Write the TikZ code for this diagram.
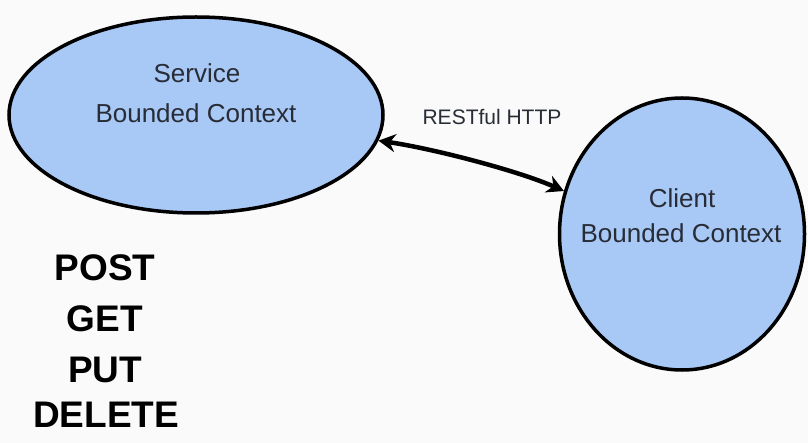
\documentclass[tikz,border=0pt]{standalone}
\usepackage{fontspec}
\setmainfont{Liberation Sans}
\usetikzlibrary{shapes.geometric,arrows.meta}
\definecolor{ctxblue}{RGB}{168,200,245}
\definecolor{ctxtext}{RGB}{40,44,54}
\definecolor{paper}{RGB}{250,250,250}
\tikzset{
    context/.style={ellipse,draw=black,fill=ctxblue,line width=3.5pt,inner sep=0pt},
    ctxlabel/.style={anchor=base,text=ctxtext,font=\fontsize{26}{30}\selectfont},
    verb/.style={anchor=base,font=\bfseries\fontsize{37}{42}\selectfont}
}
\begin{document}
\begin{tikzpicture}[x=1pt,y=-1pt]
    \fill[paper] (0,0) rectangle (808,443);
    \useasboundingbox (0,0) rectangle (808,443);
    \node[context,minimum width=374pt,minimum height=196pt] (svc) at (196,115) {};
    \node[context,minimum width=245pt,minimum height=272pt] (cli) at (682,234) {};
    \node[ctxlabel] (svcname) at (197,83) {Service};
    \node[ctxlabel] (svcbc) at (196,123) {Bounded Context};
    \node[ctxlabel] (cliname) at (682,208) {Client};
    \node[ctxlabel] (clibc) at (681,243) {Bounded Context};
    \node[anchor=base,text=ctxtext,font=\fontsize{21}{25}\selectfont] (rest) at (492,125) {RESTful HTTP};
    \draw[{Stealth[length=17pt,width=18pt]}-{Stealth[length=17pt,width=18pt]},line width=4.5pt]
        (svc.-8) .. controls +(55,8) and +(-45,-20) .. (cli.160);
    \node[verb] (post) at (105,281) {POST};
    \node[verb] (get) at (105,332) {GET};
    \node[verb] (put) at (105,382) {PUT};
    \node[verb] (delete) at (106,427) {DELETE};
\end{tikzpicture}
\end{document}
